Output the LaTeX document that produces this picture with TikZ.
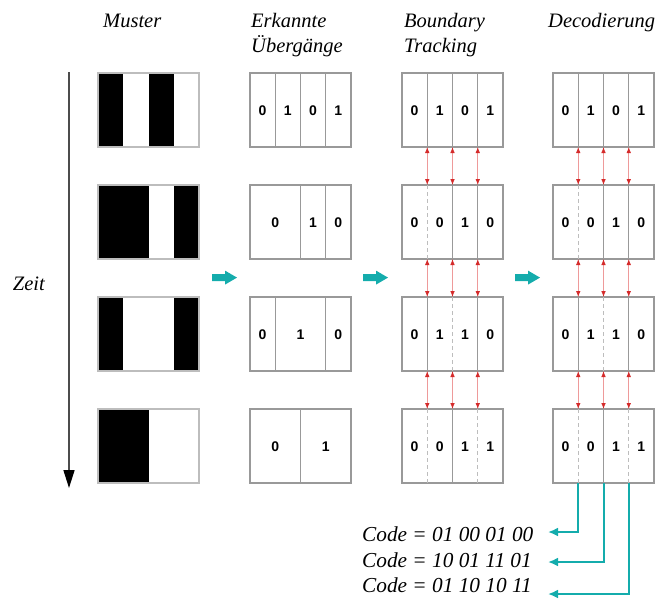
\documentclass[tikz,border=0pt]{standalone}
\usepackage{fontspec}
\setmainfont{Liberation Serif}
\newfontfamily\digitfont{Liberation Sans}
\usetikzlibrary{arrows.meta,calc}

\definecolor{boxgray}{HTML}{999999}
\definecolor{palegray}{HTML}{BDBDBD}
\definecolor{flowteal}{RGB}{20,172,172}
\definecolor{trackred}{HTML}{D42A2A}
\definecolor{trackpink}{HTML}{EE9A9A}

\begin{document}
\begin{tikzpicture}[x=1pt,y=-1pt,
  heading/.style={font=\fontsize{20.5}{24}\selectfont\itshape, inner sep=0pt, anchor=base west},
  codeline/.style={heading, font=\fontsize{21.3}{25}\selectfont\itshape},
  frame/.style={draw=boxgray, line width=1.1pt, minimum width=101pt, minimum height=74pt,
                inner sep=0pt, outer sep=0pt, anchor=north west},
  stripeframe/.style={frame, draw=palegray},
  bit/.style={font=\digitfont\bfseries\fontsize{14}{14}\selectfont, inner sep=0pt},
  edge/.style={draw=boxgray, line width=1pt},
  sameedge/.style={draw=palegray, line width=1pt, dash pattern=on 4pt off 3pt},
  track/.style={draw=trackpink, line width=0.8pt,
                {Latex[length=6pt,width=4.6pt,color=trackred]}-{Latex[length=6pt,width=4.6pt,color=trackred]}},
  flow/.style={fill=flowteal},
  readout/.style={draw=flowteal, line width=2pt, -{Latex[length=10pt,width=9pt]}},
  timeline/.style={draw=black!70, line width=1.6pt, -{Triangle[length=18pt,width=11pt,color=black]}},
]
\useasboundingbox (0,0) rectangle (660,598);

% column headings
\node[heading] (hMuster) at (103,27) {Muster};
\node[heading] (hErk1) at (251,27) {Erkannte};
\node[heading] (hErk2) at (251,52) {Übergänge};
\node[heading] (hBnd1) at (404,27) {Boundary};
\node[heading] (hBnd2) at (404,52) {Tracking};
\node[heading] (hDec) at (548,27) {Decodierung};

% time axis
\coordinate (zeitstart) at (69,72);
\coordinate (zeitend) at (69,488);
\draw[timeline] (zeitstart) -- (zeitend);
\node[heading, anchor=base east] (zeit) at (45,290) {Zeit};

% stripe patterns (1 = black stripe)
\foreach \r/\pat in {1/{1,0,1,0}, 2/{1,1,0,1}, 3/{1,0,0,1}, 4/{1,1,0,0}} {
  \foreach \v [count=\k] in \pat {
    \ifnum\v=1
      \fill[black] ({98+25.25*(\k-1)},{73+112*(\r-1)}) rectangle +(25.25,74);
    \fi
  }
  \node[stripeframe] (m\r) at (98,{73+112*(\r-1)}) {};
}

% detected transitions
\foreach \r in {1,...,4}
  \node[frame] (e\r) at (250,{73+112*(\r-1)}) {};
\foreach \r/\k in {1/1,1/2,1/3,2/2,2/3,3/1,3/3,4/2}
  \draw[edge] ($(e\r.north west)+(25.25*\k,0)$) -- ($(e\r.south west)+(25.25*\k,0)$);
\foreach \r/\p/\v [count=\i] in {1/0.5/0,1/1.5/1,1/2.5/0,1/3.5/1,
                                 2/1/0,2/2.5/1,2/3.5/0,
                                 3/0.5/0,3/2/1,3/3.5/0,
                                 4/1/0,4/3/1}
  \node[bit] (eb\i) at ($(e\r.west)+(25.25*\p,1)$) {\v};

% boundary tracking and decoding columns
\foreach \col/\x in {t/402, d/553} {
  \foreach \r/\bits in {1/{0,1,0,1}, 2/{0,0,1,0}, 3/{0,1,1,0}, 4/{0,0,1,1}} {
    \node[frame] (\col\r) at (\x,{73+112*(\r-1)}) {};
    \foreach \v [count=\k] in \bits
      \node[bit] (\col\r b\k) at ($(\col\r.west)+(25.25*\k-12.625,1)$) {\v};
  }
  \foreach \r/\k/\same in {1/1/0,1/2/0,1/3/0,2/1/1,2/2/0,2/3/0,
                           3/1/0,3/2/1,3/3/0,4/1/1,4/2/0,4/3/1} {
    \coordinate (\col\r n\k) at ($(\col\r.north west)+(25.25*\k,0)$);
    \coordinate (\col\r s\k) at ($(\col\r.south west)+(25.25*\k,0)$);
    \ifnum\same=1
      \draw[sameedge] (\col\r n\k) -- (\col\r s\k);
    \else
      \draw[edge] (\col\r n\k) -- (\col\r s\k);
    \fi
  }
  \foreach \r [count=\rn from 2] in {1,2,3}
    \foreach \k in {1,2,3}
      \draw[track] (\col\r s\k) -- (\col\rn n\k);
}

% processing step arrows
\foreach \x [count=\i] in {212,363,515} {
  \coordinate (flow\i) at (\x,277.6);
  \fill[flow] (flow\i) ++(0,-3.4) -- ++(13,0) -- ++(0,-3.6) -- ++(12,7)
              -- ++(-12,7) -- ++(0,-3.6) -- ++(-13,0) -- cycle;
}

% decoded codes
\node[codeline] (code1) at (362,541) {Code = 01 00 01 00};
\node[codeline] (code2) at (362,567) {Code = 10 01 11 01};
\node[codeline] (code3) at (362,592.5) {Code = 01 10 10 11};
\coordinate (r1) at (548,532);
\coordinate (r2) at (548,562);
\coordinate (r3) at (548,594);
\draw[readout] (d4s1) |- (r1);
\draw[readout] (d4s2) |- (r2);
\draw[readout] (d4s3) |- (r3);
\end{tikzpicture}
\end{document}
